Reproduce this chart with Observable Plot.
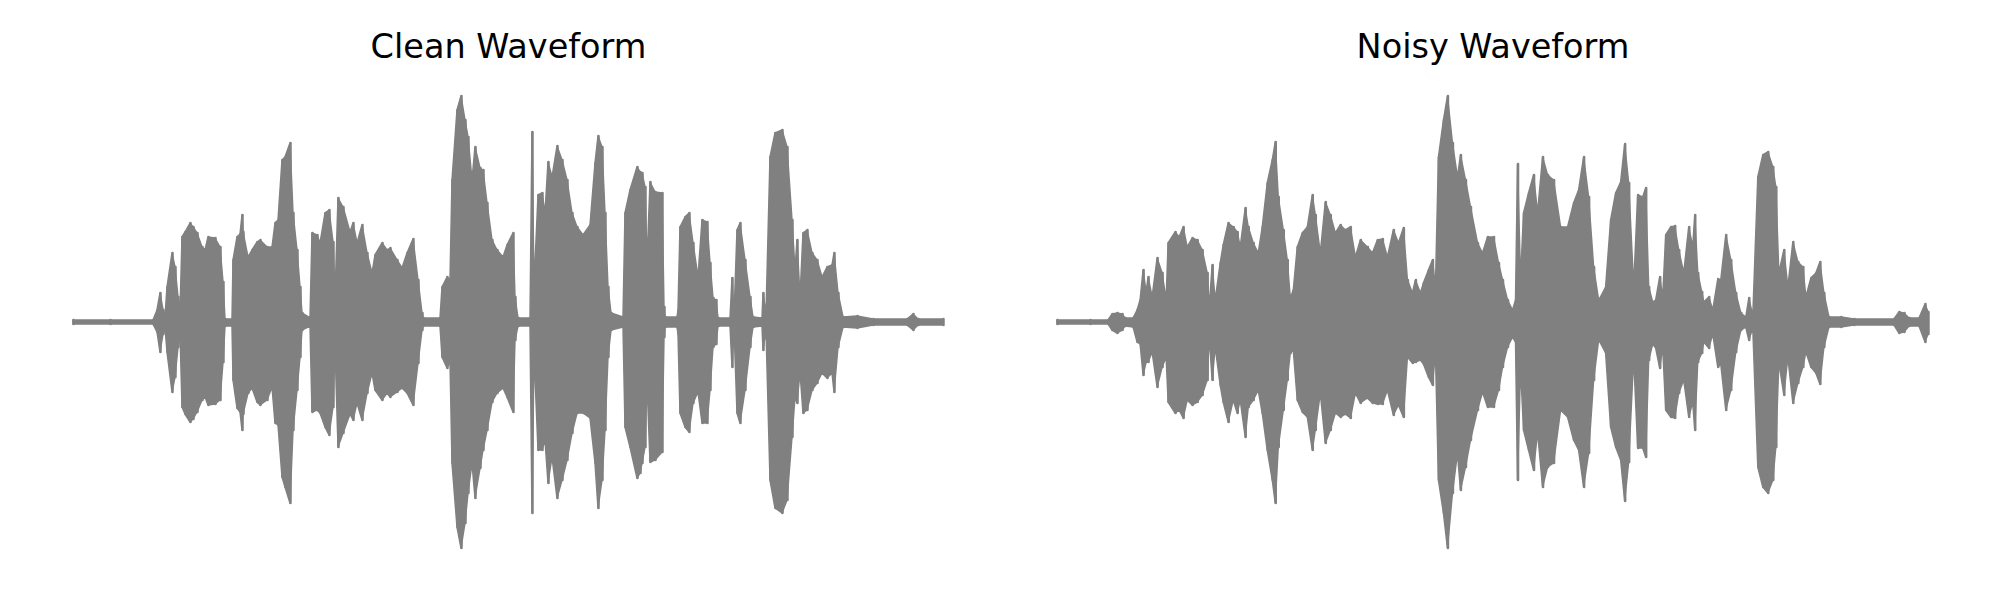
<!DOCTYPE html>
<html><head><meta charset="utf-8">
<script src="https://cdn.jsdelivr.net/npm/d3@7"></script>
<script src="https://cdn.jsdelivr.net/npm/@observablehq/plot@0.6"></script>
<style>
body{margin:0;background:#fff;}
#wrap{display:flex;width:2000px;height:600px;}
</style></head><body><div id="wrap"></div>
<script>
// Envelope of each waveform (arbitrary amplitude units)
const titles = ["Clean Waveform", "Noisy Waveform"];

const cleanT  = [0,37,80,84,87,90,92,94,99,102,105,107,109,112,117,120,124,129,132,135,142,147,150,152,159,160,164,167,169,170,175,179,184,187,194,199,202,205,209,212,217,220,224,227,229,237,239,244,247,252,256,260,262,265,270,277,280,284,289,294,299,302,309,314,317,324,329,334,340,345,349,350,367,369,374,377,379,384,388,392,395,399,402,407,410,414,419,424,430,434,440,442,445,457,459,461,465,469,472,475,479,484,489,494,499,504,510,517,522,525,529,532,535,538,550,552,557,564,567,569,572,574,577,582,589,591,592,604,605,607,612,616,620,625,629,634,637,640,643,645,657,659,661,664,667,672,677,680,689,690,693,697,702,709,714,719,722,724,727,730,734,739,744,749,754,759,761,765,770,784,800,834,840,845,870];
const cleanHi = [2,2,2,12,29,12,5,35,69,55,25,10,85,90,99,95,89,75,72,85,84,75,40,3,3,62,85,88,107,90,65,72,80,82,75,75,99,102,162,165,179,109,72,35,9,4,89,87,79,109,112,80,25,124,115,90,99,79,97,69,49,67,79,72,74,62,54,69,83,42,9,4,4,35,45,42,142,212,226,202,185,142,175,154,152,119,82,72,65,77,89,25,4,4,190,35,127,129,109,160,145,176,162,142,109,95,87,97,159,186,175,109,35,9,5,109,132,155,150,149,135,60,140,130,129,15,5,5,12,95,105,109,79,45,102,100,59,24,22,4,4,44,5,92,99,62,25,5,4,29,8,165,189,192,175,102,52,82,25,89,92,69,62,45,55,57,69,29,5,6,3,3,8,3,3];
const cleanLo = [-2,-2,-2,-10,-30,-12,-5,-30,-70,-55,-25,-10,-85,-92,-100,-97,-90,-78,-75,-83,-82,-78,-40,-4,-4,-58,-86,-90,-108,-92,-71,-66,-80,-83,-78,-65,-101,-103,-155,-165,-181,-108,-68,-35,-8,-4,-90,-88,-91,-105,-113,-85,-25,-125,-111,-92,-98,-81,-98,-71,-51,-68,-78,-71,-75,-70,-66,-71,-83,-41,-8,-4,-4,-35,-46,-40,-141,-205,-226,-201,-171,-141,-176,-146,-128,-108,-80,-71,-66,-75,-90,-18,-4,-4,-191,-30,-128,-128,-118,-161,-135,-176,-158,-138,-111,-91,-91,-96,-141,-186,-158,-108,-35,-8,-5,-105,-125,-156,-151,-141,-125,-60,-140,-138,-130,-15,-5,-5,-12,-91,-105,-110,-81,-70,-101,-101,-68,-25,-22,-4,-4,-45,-5,-91,-101,-68,-25,-5,-4,-28,-8,-158,-186,-191,-178,-115,-75,-81,-50,-91,-88,-68,-61,-51,-56,-51,-70,-25,-5,-6,-3,-3,-8,-3,-3];

const noisyT  = [0,33,51,55,60,65,68,76,80,83,86,89,91,95,100,105,109,111,118,122,126,130,135,140,145,150,152,155,158,163,166,171,176,180,183,188,191,196,201,205,210,215,218,221,226,230,233,236,240,245,250,255,258,263,268,273,278,283,288,293,298,303,310,315,320,325,330,336,341,346,350,355,358,363,366,371,375,378,381,386,390,395,400,403,408,413,420,425,430,436,441,445,450,455,458,460,463,466,471,476,480,485,490,496,503,510,516,521,526,531,536,541,545,548,553,558,563,567,571,576,580,585,588,591,595,598,602,605,608,613,617,621,626,631,635,637,640,644,646,651,655,660,663,668,673,678,683,688,691,695,700,705,710,715,718,721,726,730,735,740,745,748,753,758,762,766,771,783,796,836,841,846,851,861,867,870];
const noisyHi = [2,2,2,8,9,8,4,4,12,22,52,30,45,25,64,49,22,79,90,85,95,75,84,82,72,49,15,57,22,59,77,99,95,90,75,114,95,79,69,95,139,162,180,125,92,62,24,32,75,89,95,127,107,69,120,107,89,97,92,95,65,82,75,69,82,83,65,92,79,94,42,29,42,29,39,52,62,35,165,202,226,179,145,167,142,115,79,69,85,85,59,42,22,12,22,158,42,109,129,147,109,165,147,142,95,95,119,132,165,125,55,22,29,35,102,129,140,178,139,35,127,125,134,35,20,22,45,25,87,95,96,72,49,95,75,107,49,30,20,25,12,43,42,87,62,29,9,5,24,6,145,167,170,155,135,49,72,35,80,60,55,25,44,49,60,29,5,5,3,3,10,9,4,4,18,10];
const noisyLo = [-2,-2,-2,-8,-11,-8,-4,-5,-20,-22,-53,-40,-40,-30,-65,-45,-35,-80,-91,-88,-96,-78,-83,-80,-73,-58,-15,-58,-25,-63,-80,-100,-78,-91,-78,-115,-85,-78,-68,-91,-128,-158,-181,-125,-88,-58,-31,-28,-78,-90,-95,-128,-108,-71,-121,-108,-91,-95,-92,-96,-71,-81,-76,-81,-82,-82,-68,-93,-83,-95,-35,-41,-40,-38,-42,-55,-63,-30,-158,-191,-226,-171,-131,-168,-145,-118,-88,-70,-85,-85,-68,-45,-25,-15,-20,-158,-45,-108,-128,-148,-110,-165,-145,-141,-88,-95,-118,-128,-165,-131,-58,-18,-25,-31,-105,-125,-138,-179,-140,-35,-126,-126,-135,-38,-22,-26,-46,-25,-88,-95,-96,-71,-58,-95,-80,-108,-40,-31,-20,-26,-12,-45,-42,-88,-68,-30,-8,-5,-18,-6,-145,-165,-171,-158,-125,-40,-73,-35,-81,-61,-45,-30,-45,-51,-62,-25,-5,-5,-3,-3,-11,-10,-4,-4,-20,-12];

function panel(title, T, Hi, Lo, ml, mr) {
  const data = T.map((t, i) => ({t, hi: Hi[i], lo: Lo[i]}));
  return Plot.plot({
    width: 1000, height: 600,
    marginLeft: ml, marginRight: mr, marginTop: 0, marginBottom: 0,
    x: {domain: [0, 870], axis: null},
    y: {domain: [-278, 322], axis: null},
    style: {background: "white", fontFamily: "'DejaVu Sans', sans-serif", overflow: "visible"},
    marks: [
      Plot.areaY(data, {x: "t", y1: "lo", y2: "hi", fill: "gray", stroke: "gray", strokeWidth: 1.5, strokeLinejoin: "round", curve: "linear"}),
      Plot.ruleX(data, {x: "t", y1: "lo", y2: "hi", stroke: "gray", strokeWidth: 2.5, strokeLinecap: "round"}),
      Plot.text([title], {text: d => d, frameAnchor: "top", dy: 57, lineAnchor: "bottom", fontSize: 33.5, fill: "black"})
    ]
  });
}

const wrap = document.getElementById("wrap");
wrap.appendChild(panel(titles[0], cleanT, cleanHi, cleanLo, 73, 57));
wrap.appendChild(panel(titles[1], noisyT, noisyHi, noisyLo, 57, 72));
</script>
</body></html>
